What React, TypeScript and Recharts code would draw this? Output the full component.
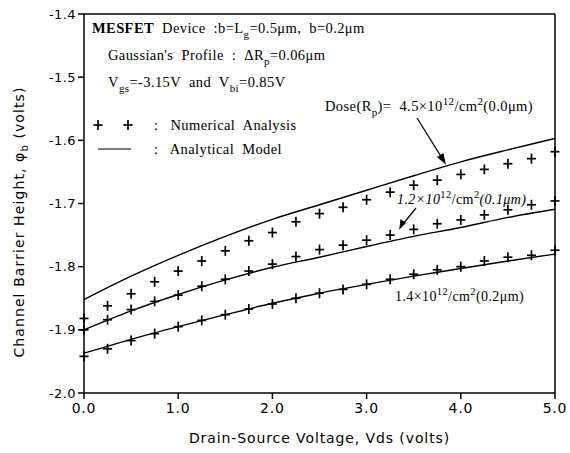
import { ComposedChart, Line, Scatter, XAxis, YAxis, ReferenceLine } from "recharts";

// Vds points of the numerical analysis (crosses)
const vdsNum = [0, 0.25, 0.5, 0.75, 1, 1.25, 1.5, 1.75, 2, 2.25, 2.5, 2.75, 3, 3.25, 3.5, 3.75, 4, 4.25, 4.5, 4.75, 5];
const num45 = [-1.882, -1.862, -1.843, -1.824, -1.807, -1.791, -1.775, -1.759, -1.746, -1.729, -1.716, -1.706, -1.694, -1.682, -1.671, -1.663, -1.654, -1.646, -1.637, -1.629, -1.618];
const num12 = [-1.9, -1.884, -1.868, -1.855, -1.845, -1.831, -1.82, -1.807, -1.796, -1.784, -1.773, -1.766, -1.758, -1.75, -1.741, -1.732, -1.726, -1.718, -1.71, -1.702, -1.696];
const num14 = [-1.942, -1.93, -1.917, -1.906, -1.895, -1.885, -1.876, -1.867, -1.859, -1.85, -1.842, -1.836, -1.828, -1.82, -1.812, -1.805, -1.8, -1.791, -1.785, -1.782, -1.774];

// analytical model curves
const vdsAna = [0, 0.5, 1, 1.5, 2, 2.5, 3, 3.5, 4, 4.5, 5];
const ana45 = [-1.852, -1.815, -1.782, -1.752, -1.725, -1.702, -1.679, -1.656, -1.634, -1.615, -1.597];
const ana12 = [-1.9, -1.87, -1.844, -1.821, -1.801, -1.785, -1.768, -1.752, -1.738, -1.722, -1.709];
const ana14 = [-1.937, -1.915, -1.895, -1.876, -1.858, -1.842, -1.828, -1.815, -1.803, -1.791, -1.78];

const xTicks = [0, 1, 2, 3, 4, 5];
const yTicks = [-2.0, -1.9, -1.8, -1.7, -1.6, -1.5, -1.4];

const toPts = (xs: number[], ys: number[]) => xs.map((x, i) => ({ x, y: ys[i] }));

const sans = "DejaVu Sans";
const serif = "Liberation Serif";
const pre = { whiteSpace: "pre" as const };

const Plus = (props: any) => {
  const { cx, cy } = props;
  if (cx == null || cy == null) return null;
  return (
    <g stroke="#000" strokeWidth={1.7}>
      <line x1={cx - 4.5} y1={cy} x2={cx + 4.5} y2={cy} />
      <line x1={cx} y1={cy - 5} x2={cx} y2={cy + 5} />
    </g>
  );
};

const YLabel = () => (
  <text
    transform="translate(24,222) rotate(-90)"
    textAnchor="middle"
    fontFamily={sans}
    fontSize={14}
    letterSpacing={1.1}
    fill="#000"
  >
    Channel Barrier Height, φ<tspan fontSize={10} dy={4}>b</tspan>
    <tspan dy={-4}> (volts)</tspan>
  </text>
);

const Notes = () => (
  <svg width={570} height={453} style={{ position: "absolute", left: 0, top: 0, pointerEvents: "none" }}>
    <g fontFamily={serif} fontSize={14.5} letterSpacing={0.4} fill="#000">
      <text x={92} y={33} xmlSpace="preserve" style={pre}>
        <tspan fontWeight="bold">MESFET</tspan>{"  Device  :b=L"}<tspan fontSize={11} dy={5}>g</tspan>
        <tspan dy={-5}>{"=0.5μm,  b=0.2μm"}</tspan>
      </text>
      <text x={108} y={60} xmlSpace="preserve" style={pre}>
        {"Gaussian's  Profile  :  ΔR"}<tspan fontSize={11} dy={5}>p</tspan>
        <tspan dy={-5}>=0.06μm</tspan>
      </text>
      <text x={108} y={87} xmlSpace="preserve" style={pre}>
        V<tspan fontSize={11} dy={5}>gs</tspan>
        <tspan dy={-5}>{"=-3.15V  and  V"}</tspan>
        <tspan fontSize={11} dy={5}>bi</tspan>
        <tspan dy={-5}>=0.85V</tspan>
      </text>
      <text x={154} y={130} xmlSpace="preserve" style={pre}>{":   Numerical  Analysis"}</text>
      <text x={154} y={154} xmlSpace="preserve" style={pre}>{":   Analytical  Model"}</text>
      <text x={325} y={111} xmlSpace="preserve" style={pre}>
        Dose(R<tspan fontSize={11} dy={5}>p</tspan>
        <tspan dy={-5}>{")=  4.5×10"}</tspan>
        <tspan fontSize={11} dy={-6}>12</tspan>
        <tspan dy={6}>/cm</tspan>
        <tspan fontSize={11} dy={-6}>2</tspan>
        <tspan dy={6}>(0.0μm)</tspan>
      </text>
      <text x={397} y={204} fontStyle="italic" fontSize={14}>
        1.2×10<tspan fontSize={10.5} dy={-6} fontStyle="normal">12</tspan>
        <tspan dy={6} fontStyle="normal">/cm</tspan>
        <tspan fontSize={10.5} dy={-6} fontStyle="normal">2</tspan>
        <tspan dy={6}>(0.1μm)</tspan>
      </text>
      <text x={395} y={301} fontSize={14}>
        1.4×10<tspan fontSize={10.5} dy={-6}>12</tspan>
        <tspan dy={6}>/cm</tspan>
        <tspan fontSize={10.5} dy={-6}>2</tspan>
        <tspan dy={6}>(0.2μm)</tspan>
      </text>
    </g>
    <g stroke="#000" strokeWidth={1.7}>
      <line x1={93.5} y1={125} x2={102.5} y2={125} />
      <line x1={98} y1={120} x2={98} y2={130} />
      <line x1={123.5} y1={125} x2={132.5} y2={125} />
      <line x1={128} y1={120} x2={128} y2={130} />
      <line x1={98} y1={149} x2={131} y2={149} strokeWidth={1.2} />
    </g>
    <g stroke="#000" strokeWidth={1.2} fill="#000">
      <line x1={417} y1={118} x2={442} y2={158} />
      <polygon points="445,163 438,157 443,154" />
      <line x1={416} y1={208} x2={403} y2={224} />
      <polygon points="400,228 401,220 405,223" />
    </g>
  </svg>
);

export default function App() {
  return (
    <div style={{ position: "absolute", left: 0, top: 0, width: 570, height: 453, background: "#fff" }}>
      <ComposedChart width={570} height={453} margin={{ top: 14, right: 15, bottom: 0, left: 0 }}>
        <XAxis
          type="number"
          dataKey="x"
          domain={[0, 5]}
          ticks={xTicks}
          tickFormatter={(v: number) => v.toFixed(1)}
          height={60}
          stroke="#000"
          tickLine={{ stroke: "#000", strokeWidth: 1.5 }}
          axisLine={{ stroke: "#000", strokeWidth: 1.5 }}
          tick={{ fill: "#000", fontFamily: sans, fontSize: 14, letterSpacing: 0.8 }}
          tickMargin={4}
          label={{
            value: "Drain-Source Voltage, Vds (volts)",
            position: "insideBottom",
            offset: 10,
            fill: "#000",
            fontFamily: sans,
            fontSize: 14,
            letterSpacing: 0.9,
          }}
        />
        <YAxis
          type="number"
          domain={[-2.0, -1.4]}
          ticks={yTicks}
          tickFormatter={(v: number) => v.toFixed(1)}
          width={84}
          stroke="#000"
          tickLine={{ stroke: "#000", strokeWidth: 1.5 }}
          axisLine={{ stroke: "#000", strokeWidth: 1.5 }}
          tick={{ fill: "#000", fontFamily: sans, fontSize: 13, letterSpacing: 0.4 }}
          tickMargin={2}
          label={{ content: () => <YLabel /> }}
        />
        <ReferenceLine y={-1.4} stroke="#000" strokeWidth={1.5} />
        <ReferenceLine x={5} stroke="#000" strokeWidth={1.5} />
        <Line data={toPts(vdsAna, ana45)} dataKey="y" type="monotone" stroke="#000" strokeWidth={1.4} dot={false} isAnimationActive={false} />
        <Line data={toPts(vdsAna, ana12)} dataKey="y" type="monotone" stroke="#000" strokeWidth={1.4} dot={false} isAnimationActive={false} />
        <Line data={toPts(vdsAna, ana14)} dataKey="y" type="monotone" stroke="#000" strokeWidth={1.4} dot={false} isAnimationActive={false} />
        <Scatter data={toPts(vdsNum, num45)} dataKey="y" shape={<Plus />} isAnimationActive={false} />
        <Scatter data={toPts(vdsNum, num12)} dataKey="y" shape={<Plus />} isAnimationActive={false} />
        <Scatter data={toPts(vdsNum, num14)} dataKey="y" shape={<Plus />} isAnimationActive={false} />
      </ComposedChart>
      <Notes />
    </div>
  );
}
